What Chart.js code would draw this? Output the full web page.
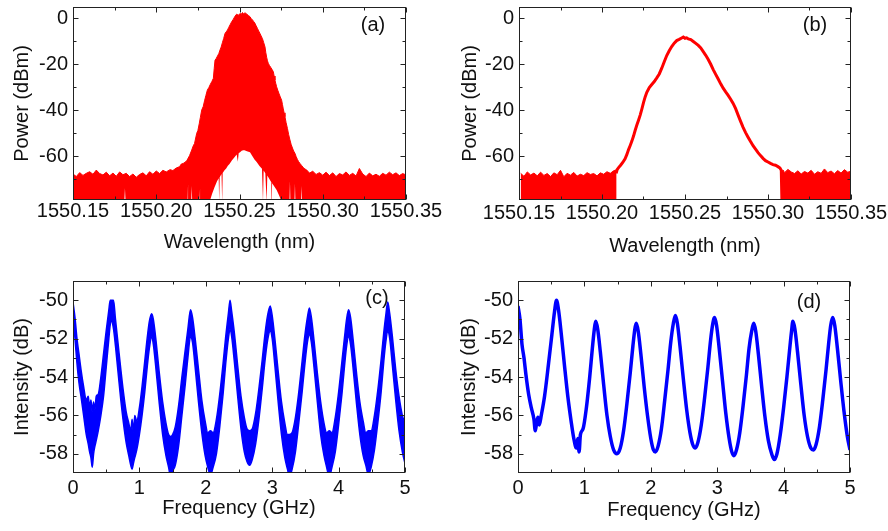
<!DOCTYPE html>
<html lang="en">
<head>
<meta charset="UTF-8">
<title>Spectra</title>
<style>
  body { margin: 0; background: #fff; }
  .quadro { position: relative; width: 888px; height: 531px; }
  .quadro canvas { position: absolute; }
</style>
</head>
<body>
<div class="quadro">
  <canvas id="grafico-a" width="445" height="260" style="left:0;top:0"></canvas>
  <canvas id="grafico-b" width="443" height="260" style="left:445px;top:0"></canvas>
  <canvas id="grafico-c" width="445" height="261" style="left:0;top:270px"></canvas>
  <canvas id="grafico-d" width="443" height="261" style="left:445px;top:270px"></canvas>
</div>

<script src="https://cdn.jsdelivr.net/npm/chart.js"></script>
<script>
// ---- (a) spectrum: upper envelope of the noisy trace
const aOndaSup = [
  1550.150, 1550.152, 1550.154, 1550.156, 1550.158, 1550.160, 1550.162, 1550.164, 1550.166, 1550.168,
  1550.170, 1550.172, 1550.174, 1550.176, 1550.178, 1550.180, 1550.182, 1550.184, 1550.186, 1550.188,
  1550.190, 1550.192, 1550.194, 1550.196, 1550.198, 1550.200, 1550.202, 1550.204, 1550.206,
  1550.2083, 1550.2100, 1550.2120, 1550.2140, 1550.2150, 1550.2162, 1550.2175, 1550.2185, 1550.2200, 1550.2213,
  1550.2222, 1550.2230, 1550.2243, 1550.2250, 1550.2258, 1550.2265, 1550.2273, 1550.2282, 1550.2290, 1550.2298,
  1550.2307, 1550.2316, 1550.2325, 1550.2334, 1550.2343, 1550.2348, 1550.2353, 1550.2360, 1550.2368, 1550.2376,
  1550.2383, 1550.2390, 1550.2398, 1550.2405, 1550.2413, 1550.2420, 1550.2428, 1550.2435, 1550.2443, 1550.2453,
  1550.2463, 1550.2473, 1550.2483, 1550.2493, 1550.2503, 1550.2510, 1550.2518, 1550.2525, 1550.2533, 1550.2540,
  1550.2548, 1550.2555, 1550.2563, 1550.2570, 1550.2578, 1550.2585, 1550.2593, 1550.2600, 1550.2608, 1550.2615,
  1550.2623, 1550.2630, 1550.2638, 1550.2645, 1550.2653, 1550.2658, 1550.2663, 1550.2668, 1550.2673, 1550.2680,
  1550.2688, 1550.2695, 1550.2703, 1550.2708, 1550.2713, 1550.2718, 1550.2723, 1550.2730, 1550.2738, 1550.2745,
  1550.2753, 1550.2758, 1550.2763, 1550.2768, 1550.2773, 1550.2780, 1550.2788, 1550.2795, 1550.2803, 1550.2810,
  1550.2818, 1550.2825, 1550.2833, 1550.2840, 1550.2848, 1550.2855, 1550.2863, 1550.2873, 1550.2883, 1550.2893,
  1550.2904,
  1550.292, 1550.294, 1550.296, 1550.298, 1550.300, 1550.302, 1550.304, 1550.306, 1550.308, 1550.310,
  1550.312, 1550.314, 1550.316, 1550.318, 1550.320, 1550.322, 1550.324, 1550.326, 1550.328, 1550.330,
  1550.332, 1550.334, 1550.336, 1550.338, 1550.340, 1550.342, 1550.344, 1550.346, 1550.348, 1550.350
];
const aPotSup = [
  -67.8, -68.9, -67.2, -68.4, -67.5, -66.8, -67.9, -66.1, -67.6, -68.2,
  -67.0, -68.6, -67.4, -68.8, -66.9, -68.1, -67.5, -68.9, -67.8, -69.2,
  -68.0, -67.3, -68.6, -66.8, -67.9, -66.5, -67.6, -66.2, -66.9,
  -65.9, -66.3, -65.2, -64.6, -63.5, -63.2, -62.6, -61.8, -59.8, -57.4,
  -55.6, -54.5, -50.1, -48.9, -46.0, -43.2, -40.0, -38.5, -36.0, -33.7,
  -31.3, -30.2, -28.8, -27.6, -26.2, -22.0, -18.3, -17.6, -16.5, -15.4,
  -13.9, -12.6, -10.5, -8.9, -6.7, -6.0, -5.2, -4.1, -3.0, -1.6,
  -0.5, 0.8, 1.7, 1.2, 2.0, 1.6, 2.4, 1.8, 2.3, 1.9,
  1.5, 1.0, 0.6, -0.2, -0.8, -1.5, -2.3, -3.4, -4.5, -5.6,
  -6.7, -7.8, -9.0, -10.6, -12.5, -15.0, -17.0, -18.6, -19.7, -20.6,
  -21.5, -22.3, -23.3, -25.2, -27.0, -28.5, -29.9, -31.4, -33.0, -34.3,
  -35.7, -37.6, -39.5, -41.2, -42.9, -45.5, -48.0, -50.6, -53.0, -54.9,
  -56.5, -57.8, -58.8, -60.2, -61.5, -62.4, -63.2, -64.1, -65.0, -65.6,
  -66.1,
  -67.4, -66.6, -68.0, -67.2, -68.3, -67.0, -68.5, -67.3, -68.9, -67.6,
  -68.2, -66.9, -68.4, -67.5, -68.7, -65.4, -67.8, -68.9, -67.4, -68.6,
  -67.9, -68.8, -67.5, -68.3, -67.0, -68.1, -67.3, -68.5, -67.6, -68.2
];
// ---- (a) lower envelope: white arch under the peak and thin gaps
const aOndaInf = [
  1550.150, 1550.1808, 1550.1812, 1550.1816, 1550.2188, 1550.2191, 1550.2194, 1550.2210, 1550.2213, 1550.2216,
  1550.2260, 1550.2263, 1550.2266, 1550.2320, 1550.2335, 1550.2345, 1550.2350, 1550.2365, 1550.2375, 1550.2378,
  1550.2381, 1550.2392, 1550.2396, 1550.2399, 1550.2410, 1550.2420, 1550.2430, 1550.2440, 1550.2455, 1550.2470,
  1550.2483, 1550.2490, 1550.2495, 1550.2505, 1550.2513, 1550.2522, 1550.2530, 1550.2545, 1550.2563, 1550.2575,
  1550.2590, 1550.2603, 1550.2620, 1550.2635, 1550.2641, 1550.2645, 1550.2655, 1550.2663, 1550.2667, 1550.2683,
  1550.2691, 1550.2693, 1550.2696, 1550.2710, 1550.2723, 1550.2740, 1550.2753, 1550.2800, 1550.2803, 1550.2806,
  1550.2830, 1550.2833, 1550.2836, 1550.2870, 1550.2873, 1550.2876, 1550.350
];
const aPotInf = [
  -80, -80, -74, -80, -80, -72, -80, -80, -73, -80,
  -80, -74, -80, -80, -76.5, -74.5, -73.6, -71.0, -69.6, -80,
  -69.2, -67.8, -80, -67.4, -66.2, -65.4, -64.2, -63.5, -61.8, -60.5,
  -59.3, -62.5, -58.8, -58.2, -57.7, -57.5, -57.5, -57.9, -58.3, -59.8,
  -61.5, -62.6, -64.3, -65.5, -80, -66.3, -67.5, -80, -68.4, -70.4,
  -71.4, -80, -71.8, -73.3, -74.7, -77.5, -80, -80, -71, -80,
  -80, -72, -80, -80, -73, -80, -80
];

// ---- (b) filtered spectrum: smooth line plus two noise floors
const bOndaCurva = [
  1550.2085, 1550.2092, 1550.2100, 1550.2112, 1550.2125, 1550.2139, 1550.2150, 1550.2160, 1550.2170, 1550.2180,
  1550.2190, 1550.2200, 1550.2210, 1550.2220, 1550.2230, 1550.2240, 1550.2250, 1550.2260, 1550.2270, 1550.2285,
  1550.2300, 1550.2315, 1550.2330, 1550.2345, 1550.2360, 1550.2375, 1550.2390, 1550.2405, 1550.2420, 1550.2435,
  1550.2450, 1550.2465, 1550.2480, 1550.2490, 1550.2500, 1550.2510, 1550.2520, 1550.2535, 1550.2550, 1550.2565,
  1550.2580, 1550.2595, 1550.2610, 1550.2625, 1550.2640, 1550.2655, 1550.2670, 1550.2685, 1550.2700, 1550.2715,
  1550.2730, 1550.2745, 1550.2760, 1550.2775, 1550.2790, 1550.2805, 1550.2820, 1550.2835, 1550.2850, 1550.2865,
  1550.2880, 1550.2895, 1550.2910, 1550.2925, 1550.2940, 1550.2955, 1550.2970, 1550.2985, 1550.3000, 1550.3015,
  1550.3030, 1550.3045, 1550.3060, 1550.3072, 1550.3080, 1550.3084
];
const bPotCurva = [
  -67.5, -65.8, -65.0, -64.0, -62.8, -61.2, -59.3, -57.2, -55.4, -53.5,
  -51.3, -48.8, -46.5, -44.4, -42.2, -39.6, -36.8, -34.3, -32.3, -30.2,
  -28.9, -27.6, -26.0, -24.3, -21.8, -19.0, -16.3, -14.2, -12.4, -10.9,
  -9.8, -9.3, -8.7, -8.3, -8.8, -8.6, -9.1, -9.4, -10.2, -11.0,
  -11.9, -13.0, -14.6, -16.2, -18.0, -20.1, -22.4, -24.5, -26.5, -28.6,
  -30.5, -32.1, -33.6, -35.3, -37.1, -39.4, -42.2, -44.9, -47.5, -49.8,
  -51.8, -53.7, -55.5, -57.0, -58.5, -59.8, -61.0, -62.0, -62.6, -63.2,
  -63.7, -64.0, -64.6, -65.2, -66.2, -80
];
const bOndaEsq = [
  1550.151, 1550.153, 1550.155, 1550.157, 1550.159, 1550.161, 1550.163, 1550.165, 1550.167, 1550.169,
  1550.171, 1550.173, 1550.175, 1550.177, 1550.179, 1550.181, 1550.183, 1550.185, 1550.187, 1550.189,
  1550.191, 1550.193, 1550.195, 1550.197, 1550.199, 1550.201, 1550.203, 1550.205, 1550.207, 1550.2088
];
const bPotEsq = [
  -67.5, -68.8, -66.9, -68.2, -67.4, -68.6, -67.0, -68.4, -67.6, -68.9,
  -67.3, -68.1, -66.2, -69.0, -67.5, -68.3, -67.1, -68.7, -67.9, -68.5,
  -67.2, -68.0, -67.6, -68.6, -67.3, -67.9, -66.8, -67.5, -66.4, -65.9
];
const bOndaDir = [
  1550.3090, 1550.310, 1550.312, 1550.314, 1550.316, 1550.318, 1550.320, 1550.322, 1550.324, 1550.326,
  1550.328, 1550.330, 1550.332, 1550.334, 1550.336, 1550.338, 1550.340, 1550.342, 1550.344, 1550.346,
  1550.348, 1550.350
];
const bPotDir = [
  -66.0, -67.2, -65.8, -66.9, -67.6, -66.4, -67.8, -66.7, -67.4, -66.2,
  -67.9, -66.8, -67.5, -65.6, -67.2, -66.5, -67.7, -66.3, -67.4, -65.9,
  -67.0, -66.6
];

// ---- (c) beat spectrum, noisy band (upper / lower edge)
const cFreq = [
  0.00, 0.03, 0.06, 0.09, 0.12, 0.16, 0.20, 0.23, 0.25, 0.27,
  0.29, 0.31, 0.33, 0.35, 0.38, 0.42, 0.46, 0.50, 0.54, 0.56,
  0.58, 0.61, 0.64, 0.68, 0.72, 0.76, 0.80, 0.84, 0.87, 0.89,
  0.91, 0.93, 0.96, 1.00, 1.04, 1.08, 1.12, 1.15, 1.185, 1.21,
  1.25, 1.30, 1.35, 1.40, 1.44, 1.47, 1.50, 1.54, 1.59, 1.64,
  1.69, 1.73, 1.77, 1.80, 1.84, 1.89, 1.94, 1.99, 2.03, 2.07,
  2.11, 2.16, 2.21, 2.26, 2.30, 2.34, 2.365, 2.39, 2.43, 2.48,
  2.53, 2.58, 2.62, 2.66, 2.70, 2.75, 2.80, 2.85, 2.89, 2.93,
  2.97, 3.00, 3.04, 3.09, 3.14, 3.19, 3.23, 3.26, 3.30, 3.35,
  3.40, 3.45, 3.49, 3.53, 3.56, 3.59, 3.63, 3.68, 3.73, 3.78,
  3.82, 3.86, 3.90, 3.95, 4.00, 4.05, 4.09, 4.12, 4.15, 4.18,
  4.22, 4.27, 4.32, 4.37, 4.41, 4.45, 4.49, 4.54, 4.59, 4.64,
  4.68, 4.71, 4.74, 4.77, 4.81, 4.86, 4.91, 4.96, 5.00
];
const cSup = [
  -50.1, -50.9, -52.0, -52.8, -53.6, -54.5, -55.2, -55.0, -55.6, -55.2,
  -55.8, -55.3, -55.7, -55.0, -54.9, -54.0, -52.8, -51.6, -50.5, -50.0,
  -50.0, -50.0, -51.0, -52.3, -53.6, -54.8, -55.8, -56.4, -56.8, -56.2,
  -56.9, -56.0, -56.3, -55.6, -54.5, -53.2, -51.9, -51.1, -50.7, -51.0,
  -52.1, -53.8, -55.3, -56.4, -57.0, -57.1, -57.0, -56.6, -55.5, -54.0,
  -52.6, -51.5, -50.5, -50.9, -52.0, -53.6, -55.2, -56.3, -56.9, -56.8,
  -56.9, -56.2, -54.9, -53.3, -51.9, -50.7, -50.0, -50.6, -51.7, -53.4,
  -55.0, -56.1, -56.7, -56.8, -56.7, -55.9, -54.6, -53.1, -51.8, -50.8,
  -50.3, -50.8, -52.0, -53.7, -55.3, -56.4, -57.0, -57.0, -56.9, -56.1,
  -54.8, -53.2, -51.9, -50.9, -50.4, -50.9, -52.1, -53.8, -55.3, -56.4,
  -56.9, -56.8, -56.9, -56.1, -54.8, -53.2, -51.9, -51.0, -50.5, -50.9,
  -52.1, -53.8, -55.3, -56.3, -56.9, -56.8, -56.8, -56.0, -54.7, -53.1,
  -51.7, -50.8, -50.1, -50.7, -51.9, -53.6, -55.0, -56.0, -56.4
];
const cInf = [
  -50.9, -52.0, -53.3, -54.3, -55.0, -56.0, -57.0, -57.5, -57.9, -58.2,
  -58.7, -58.0, -57.6, -57.3, -56.8, -56.0, -55.0, -53.5, -52.0, -51.3,
  -51.1, -51.5, -52.4, -53.8, -55.2, -56.4, -57.4, -58.1, -58.6, -58.8,
  -58.5, -58.2, -57.8, -57.0, -56.0, -54.8, -53.4, -52.5, -51.9, -52.3,
  -53.6, -55.4, -57.0, -58.1, -58.7, -59.2, -58.9, -58.6, -57.6, -56.0,
  -54.4, -53.0, -51.9, -52.2, -53.5, -55.3, -56.9, -58.1, -58.7, -59.1,
  -58.7, -58.0, -56.6, -54.9, -53.3, -52.0, -51.5, -51.9, -53.2, -55.0,
  -56.7, -57.9, -58.4, -58.6, -58.3, -57.5, -56.2, -54.6, -53.2, -52.1,
  -51.6, -52.0, -53.4, -55.3, -57.0, -58.2, -58.8, -59.2, -58.8, -57.9,
  -56.4, -54.8, -53.4, -52.2, -51.8, -52.2, -53.5, -55.3, -57.0, -58.1,
  -58.7, -59.2, -58.7, -57.9, -56.5, -54.9, -53.4, -52.4, -51.9, -52.3,
  -53.6, -55.4, -57.0, -58.1, -58.6, -59.1, -58.7, -57.8, -56.4, -54.8,
  -53.2, -52.2, -51.6, -52.0, -53.4, -55.2, -56.8, -57.9, -58.5
];

// ---- (d) beat spectrum after filtering
const dFreq = [
  0.00, 0.03, 0.06, 0.09, 0.12, 0.16, 0.20, 0.24, 0.26, 0.28,
  0.30, 0.32, 0.35, 0.40, 0.46, 0.51, 0.55, 0.58, 0.61, 0.65,
  0.70, 0.75, 0.80, 0.84, 0.88, 0.90, 0.92, 0.94, 0.98, 1.03,
  1.08, 1.12, 1.15, 1.17, 1.20, 1.24, 1.29, 1.34, 1.39, 1.44,
  1.49, 1.54, 1.59, 1.64, 1.69, 1.73, 1.76, 1.78, 1.81, 1.85,
  1.90, 1.95, 2.00, 2.04, 2.07, 2.11, 2.16, 2.21, 2.26, 2.30,
  2.34, 2.37, 2.40, 2.44, 2.49, 2.54, 2.59, 2.63, 2.67, 2.71,
  2.76, 2.81, 2.86, 2.90, 2.93, 2.96, 2.99, 3.03, 3.08, 3.13,
  3.18, 3.22, 3.25, 3.29, 3.34, 3.39, 3.44, 3.48, 3.52, 3.55,
  3.58, 3.62, 3.67, 3.72, 3.77, 3.82, 3.86, 3.90, 3.95, 4.00,
  4.05, 4.09, 4.12, 4.14, 4.17, 4.21, 4.26, 4.31, 4.36, 4.41,
  4.45, 4.49, 4.54, 4.59, 4.64, 4.68, 4.71, 4.74, 4.77, 4.81,
  4.86, 4.91, 4.96, 5.00
];
const dInt = [
  -50.3, -51.0, -52.3, -53.0, -53.9, -54.9, -55.6, -56.2, -56.8, -56.4,
  -56.1, -56.5, -56.0, -55.0, -53.3, -51.8, -50.6, -50.0, -50.5, -51.7,
  -53.4, -55.0, -56.3, -57.2, -57.7, -57.2, -57.9, -57.0, -56.7, -55.6,
  -54.0, -52.5, -51.5, -51.1, -51.5, -52.7, -54.4, -56.0, -57.1, -57.8,
  -58.0, -57.7, -56.8, -55.4, -53.8, -52.4, -51.5, -51.2, -51.6, -52.8,
  -54.5, -56.0, -57.2, -57.8, -57.9, -57.6, -56.7, -55.2, -53.6, -52.2,
  -51.2, -50.8, -51.2, -52.4, -54.1, -55.7, -56.9, -57.5, -57.7, -57.4,
  -56.5, -55.1, -53.5, -52.1, -51.3, -50.9, -51.3, -52.5, -54.2, -55.9,
  -57.2, -57.9, -58.1, -57.8, -56.9, -55.5, -53.9, -52.5, -51.6, -51.2,
  -51.6, -52.8, -54.5, -56.1, -57.3, -58.0, -58.3, -58.0, -57.0, -55.6,
  -54.0, -52.6, -51.6, -51.1, -51.5, -52.7, -54.4, -56.0, -57.1, -57.7,
  -57.8, -57.5, -56.6, -55.2, -53.6, -52.2, -51.3, -50.9, -51.3, -52.5,
  -54.2, -55.8, -57.1, -57.8
];

// ---- tick labels
const ticksOnda = [1550.15, 1550.20, 1550.25, 1550.30, 1550.35];
const ticksPot = [-60, -40, -20, 0];
const ticksFreq = [0, 1, 2, 3, 4, 5];
const ticksInt = [-58, -56, -54, -52, -50];

const VERMELHO = '#ff0000';
const AZUL = '#0000ff';
const FONTE = '"Liberation Sans", Arial, Helvetica, sans-serif';
Chart.defaults.font.family = FONTE;
Chart.defaults.color = '#111';

function pares(xs, ys) {
  return xs.map((v, i) => ({ x: v, y: ys[i] }));
}

// frame with inward ticks on all four sides + panel letter
const moldura = {
  id: 'moldura',
  afterDraw(chart, args, opts) {
    const ctx = chart.ctx;
    const a = chart.chartArea;
    const l = Math.round(a.left) + 0.5, r = Math.round(a.right) - 0.5;
    const t = Math.round(a.top) + 0.5, b = Math.round(a.bottom) - 0.5;
    ctx.save();
    ctx.strokeStyle = '#222';
    ctx.lineWidth = 1;
    ctx.strokeRect(l, t, r - l, b - t);

    function marcas(scale, vals, len) {
      ctx.beginPath();
      vals.forEach(v => {
        const p = Math.round(scale.getPixelForValue(v)) + 0.5;
        if (scale.isHorizontal()) {
          ctx.moveTo(p, b); ctx.lineTo(p, b - len);
          ctx.moveTo(p, t); ctx.lineTo(p, t + len);
        } else {
          ctx.moveTo(l, p); ctx.lineTo(l + len, p);
          ctx.moveTo(r, p); ctx.lineTo(r - len, p);
        }
      });
      ctx.stroke();
    }

    [chart.scales.x, chart.scales.y].forEach(s => {
      const maj = s.ticks.map(k => k.value);
      const passo = maj[1] - maj[0];
      const men = [maj[0] - passo / 2];
      maj.forEach(v => men.push(v + passo / 2));
      marcas(s, maj, 5);
      marcas(s, men.filter(v => v > s.min && v < s.max), 3);
    });

    ctx.fillStyle = '#111';
    ctx.font = '20px ' + FONTE;
    ctx.textAlign = 'center';
    ctx.textBaseline = 'middle';
    ctx.fillText(opts.texto, opts.x, opts.y);
    ctx.restore();
  }
};

function painel(id, c) {
  const fTick = { size: 20, lineHeight: 1.1 };
  const fTit = { size: 20, lineHeight: 1.2 };
  return new Chart(document.getElementById(id), {
    type: 'line',
    data: { datasets: c.datasets },
    options: {
      responsive: false,
      animation: false,
      events: [],
      layout: { padding: c.padding },
      elements: { point: { radius: 0 }, line: { tension: 0 } },
      plugins: {
        legend: { display: false },
        tooltip: { enabled: false },
        moldura: c.rotulo
      },
      scales: {
        x: {
          type: 'linear', min: c.xMin, max: c.xMax,
          grid: { display: false, drawTicks: false }, border: { display: false },
          ticks: {
            padding: c.xTickPad, autoSkip: false, maxRotation: 0, minRotation: 0,
            font: fTick, color: '#111', callback: c.xFmt
          },
          title: { display: true, text: c.xTitulo, font: fTit, color: '#111', padding: { top: 0, bottom: c.xTitPad } },
          afterBuildTicks: s => { s.ticks = c.xTicks.map(v => ({ value: v })); },
          afterFit: s => { s.height = c.xAltura; s.paddingLeft = 0; s.paddingRight = 0; }
        },
        y: {
          type: 'linear', min: c.yMin, max: c.yMax,
          grid: { display: false, drawTicks: false }, border: { display: false },
          ticks: { padding: 5, font: fTick, color: '#111', callback: v => String(v) },
          title: { display: true, text: c.yTitulo, font: fTit, color: '#111', padding: { top: c.yTitPad, bottom: 0 } },
          afterBuildTicks: s => { s.ticks = c.yTicks.map(v => ({ value: v })); },
          afterFit: s => { s.width = c.yLargura; s.paddingTop = 0; s.paddingBottom = 0; }
        }
      }
    },
    plugins: [moldura]
  });
}

const fmtOnda = v => v.toFixed(2);
const fmtFreq = v => String(v);

// (a)
painel('grafico-a', {
  padding: { left: 0, top: 7, right: 39, bottom: 0 },
  xMin: 1550.15, xMax: 1550.35, xTicks: ticksOnda, xFmt: fmtOnda,
  xTitulo: 'Wavelength (nm)', xTickPad: 0, xTitPad: 6, xAltura: 60,
  yMin: -79.1, yMax: 4.8, yTicks: ticksPot, yTitulo: 'Power (dBm)', yTitPad: 10.5, yLargura: 73,
  rotulo: { texto: '(a)', x: 373, y: 25 },
  datasets: [
    { data: pares(aOndaSup, aPotSup), borderColor: VERMELHO, backgroundColor: VERMELHO, borderWidth: 1, fill: '+1' },
    { data: pares(aOndaInf, aPotInf), borderColor: 'rgba(0,0,0,0)', borderWidth: 0, fill: false }
  ]
});

// (b)
painel('grafico-b', {
  padding: { left: 0, top: 7, right: 37, bottom: 0 },
  xMin: 1550.15, xMax: 1550.35, xTicks: ticksOnda, xFmt: fmtOnda,
  xTitulo: 'Wavelength (nm)', xTickPad: 2.3, xTitPad: 1.3, xAltura: 60,
  yMin: -79.1, yMax: 4.8, yTicks: ticksPot, yTitulo: 'Power (dBm)', yTitPad: 13.8, yLargura: 74,
  rotulo: { texto: '(b)', x: 370, y: 25 },
  datasets: [
    { data: pares(bOndaCurva, bPotCurva), borderColor: VERMELHO, borderWidth: 3, fill: false },
    { data: pares(bOndaEsq, bPotEsq), borderColor: VERMELHO, backgroundColor: VERMELHO, borderWidth: 1, fill: 'start' },
    { data: pares(bOndaDir, bPotDir), borderColor: VERMELHO, backgroundColor: VERMELHO, borderWidth: 1, fill: 'start' }
  ]
});

// (c)
painel('grafico-c', {
  padding: { left: 0, top: 11, right: 40, bottom: 0 },
  xMin: 0, xMax: 5, xTicks: ticksFreq, xFmt: fmtFreq,
  xTitulo: 'Frequency (GHz)', xTickPad: 4.3, xTitPad: 10.7, xAltura: 58,
  yMin: -59, yMax: -49, yTicks: ticksInt, yTitulo: 'Intensity (dB)', yTitPad: 10.5, yLargura: 73,
  rotulo: { texto: '(c)', x: 377, y: 28 },
  datasets: [
    { data: pares(cFreq, cSup), borderColor: AZUL, backgroundColor: AZUL, borderWidth: 1.5, fill: '+1', cubicInterpolationMode: 'monotone' },
    { data: pares(cFreq, cInf), borderColor: AZUL, borderWidth: 1.5, fill: false, cubicInterpolationMode: 'monotone' }
  ]
});

// (d)
painel('grafico-d', {
  padding: { left: 0, top: 11, right: 38, bottom: 0 },
  xMin: 0, xMax: 5, xTicks: ticksFreq, xFmt: fmtFreq,
  xTitulo: 'Frequency (GHz)', xTickPad: 4.3, xTitPad: 8.3, xAltura: 58,
  yMin: -59, yMax: -49, yTicks: ticksInt, yTitulo: 'Intensity (dB)', yTitPad: 12, yLargura: 73,
  rotulo: { texto: '(d)', x: 364, y: 32 },
  datasets: [
    { data: pares(dFreq, dInt), borderColor: AZUL, borderWidth: 3.5, fill: false, cubicInterpolationMode: 'monotone' }
  ]
});
</script>
</body>
</html>
